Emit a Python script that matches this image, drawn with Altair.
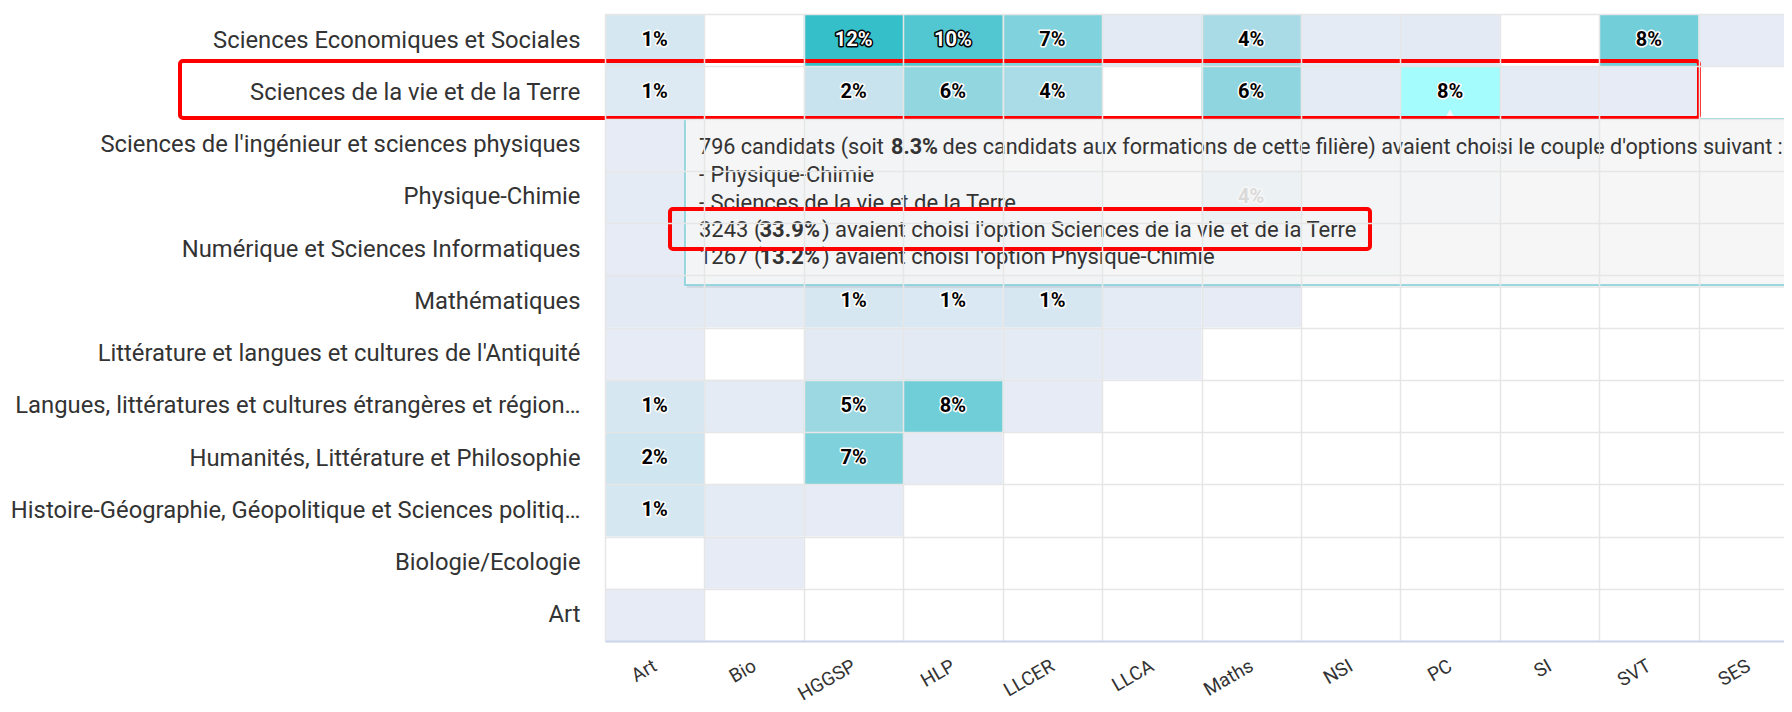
import altair as alt
import pandas as pd

# ---------------- data ----------------
cols = ["Art", "Bio", "HGGSP", "HLP", "LLCER", "LLCA", "Maths", "NSI", "PC", "SI", "SVT", "SES"]
rows = [
    "Sciences Economiques et Sociales",
    "Sciences de la vie et de la Terre",
    "Sciences de l'ingénieur et sciences physiques",
    "Physique-Chimie",
    "Numérique et Sciences Informatiques",
    "Mathématiques",
    "Littérature et langues et cultures de l'Antiquité",
    "Langues, littératures et cultures étrangères et région…",
    "Humanités, Littérature et Philosophie",
    "Histoire-Géographie, Géopolitique et Sciences politiq…",
    "Biologie/Ecologie",
    "Art",
]
# percentages per row, columns in `cols` order (None = empty cell)
v_ses = [1.2, None, 12.2, 10.1, 7.0, 0.2, 4.3, 0.1, 0.2, None, 8.0, 0.0]
v_svt = [0.6, None, 2.1, 5.8, 4.2, None, 6.0, 0.1, 8.3, 0.1, 0.0]
v_si = [0.0, None, 0.1, 0.1, None, None, 0.2, 0.1, 0.2, 0.0]
v_pc = [0.1, 0.0, 0.3, 0.2, 0.2, None, 4.1, 0.2, 0.0]
v_nsi = [0.0, None, 0.2, 0.1, 0.1, None, 0.3, 0.0]
v_maths = [0.2, 0.1, 1.0, 0.9, 1.0, 0.1, 0.0]
v_llca = [0.0, None, 0.2, 0.2, 0.1, 0.0]
v_llcer = [1.1, 0.1, 5.2, 8.1, 0.0]
v_hlp = [1.6, None, 7.1, 0.0]
v_hggsp = [1.2, 0.1, 0.0]
v_bio = [None, 0.0]
v_art = [0.0]
values_by_row = [v_ses, v_svt, v_si, v_pc, v_nsi, v_maths, v_llca, v_llcer, v_hlp, v_hggsp, v_bio, v_art]

hover_row = "Sciences de la vie et de la Terre"
hover_col = "PC"

tip_segments = [
    "796 candidats (soit ", "8.3%",
    "des candidats aux formations de cette filière) avaient choisi le couple d'options suivant :",
    "- Physique-Chimie",
    "- Sciences de la vie et de la Terre",
    "3243 (", "33.9%", ") avaient choisi l'option Sciences de la vie et de la Terre",
    "1267 (", "13.2%", ") avaient choisi l'option Physique-Chimie",
]
tip_bold = [False, True, False, False, False, False, True, False, False, True, False]
tip_line = [0, 0, 0, 1, 2, 3, 3, 3, 4, 4, 4]

records = []
for rname, vals in zip(rows, values_by_row):
    for c, v in zip(cols, vals):
        if v is None:
            continue
        r = round(v)
        records.append({
            "row": rname, "col": c, "value": v,
            "label": f"{r}%" if r >= 1 else "",
            "hover": (rname == hover_row and c == hover_col),
        })
df = pd.DataFrame(records)

# ---------------- layout (pixels, plot coordinates) ----------------
PLOT_W = 1193
PLOT_H = 627
FONT = "Roboto"

seg_x = [94, 286, 337.5, 94, 94, 94, 154.5, 217, 94, 154.5, 217]
seg_size = [21.6, 21.6, 21.6, 22, 22, 22, 22, 22, 22, 22, 22]
line_y = [133.5, 161, 188.5, 215.7, 243.3]

xscale = alt.Scale(domain=cols, range=[0, PLOT_W], paddingInner=0, paddingOuter=0)
yscale = alt.Scale(domain=rows, paddingInner=0, paddingOuter=0)

xaxis = alt.Axis(
    title=None, labelAngle=-30, labelAlign="right", labelBaseline="middle",
    labelFont=FONT, labelFontSize=19, labelColor="#333333", labelPadding=23,
    ticks=False, tickSize=0, domain=True, domainColor="#ccd6eb", domainWidth=2,
    grid=True, gridColor="#e6e6e6", gridWidth=1.5, tickBand="extent",
)
yaxis = alt.Axis(
    title=None, labelFont=FONT, labelFontSize=23.8, labelColor="#333333",
    labelPadding=25, labelLimit=1000, ticks=False, tickSize=0, domain=False,
    grid=True, gridColor="#e6e6e6", gridWidth=1.5, tickBand="extent",
)

base = alt.Chart(df).encode(
    x=alt.X("col:N", scale=xscale, axis=xaxis),
    y=alt.Y("row:N", scale=yscale, axis=yaxis),
)

heat = base.mark_rect().encode(
    color=alt.Color(
        "value:Q",
        scale=alt.Scale(domain=[0, 12.2], range=["#e6ebf5", "#35bfc9"], interpolate="rgb"),
        legend=None,
    )
)
hover = base.transform_filter("datum.hover").mark_rect(color="#a5fcfc")

is_dark = "datum.value >= 9.5"
lab_outline = base.transform_filter("datum.label != ''").mark_text(
    font=FONT, fontSize=20, fontWeight="bold", strokeWidth=3, strokeJoin="round"
).encode(
    text="label:N",
    color=alt.condition(is_dark, alt.value("#000000"), alt.value("#ffffff")),
    stroke=alt.condition(is_dark, alt.value("#000000"), alt.value("#ffffff")),
)
lab_fill = base.transform_filter("datum.label != ''").mark_text(
    font=FONT, fontSize=20, fontWeight="bold"
).encode(
    text="label:N",
    color=alt.condition(is_dark, alt.value("#ffffff"), alt.value("#000000")),
)

one = pd.DataFrame({"k": [0]})

tip_shadow = alt.Chart(one).mark_rect(fill="#000000", fillOpacity=0.07).encode(
    x=alt.value(82), x2=alt.value(1300), y=alt.value(107), y2=alt.value(274)
)
tip_box = alt.Chart(one).mark_rect(
    fill="#f7f7f7", fillOpacity=0.88, stroke="#7cd0d8", strokeWidth=1.5
).encode(x=alt.value(80), x2=alt.value(1300), y=alt.value(105), y2=alt.value(271))

notch = base.transform_filter("datum.hover").mark_point(
    shape="triangle-up", size=110, filled=True, fill="#f7f7f7", opacity=1, strokeWidth=0
).encode(y=alt.value(100))

tip_texts = []
for seg, bold, ln, sx, fs in zip(tip_segments, tip_bold, tip_line, seg_x, seg_size):
    tip_texts.append(
        alt.Chart(one).mark_text(
            text=seg, font=FONT, fontSize=fs, fontWeight="bold" if bold else "normal",
            color="#333333", align="left", baseline="middle",
        ).encode(x=alt.value(sx), y=alt.value(line_y[ln]))
    )

red1 = alt.Chart(one).mark_rect(
    filled=False, stroke="#ff0000", strokeWidth=4, cornerRadius=3, fillOpacity=0
).encode(x=alt.value(-425), x2=alt.value(1094), y=alt.value(47), y2=alt.value(104))
red2 = alt.Chart(one).mark_rect(
    filled=False, stroke="#ff0000", strokeWidth=4, cornerRadius=3, fillOpacity=0
).encode(x=alt.value(65), x2=alt.value(765), y=alt.value(195), y2=alt.value(235))

chart = alt.layer(
    heat, hover, lab_outline, lab_fill, tip_shadow, tip_box, notch, *tip_texts, red1, red2
).properties(
    width=1179, height=PLOT_H,
    padding={"left": 597, "top": 6, "right": 0, "bottom": 62},
    autosize=alt.AutoSizeParams(type="none"),
    background="white",
).configure_view(stroke=None)

chart.save("out.html", embed_options={"renderer": "svg", "actions": False})
